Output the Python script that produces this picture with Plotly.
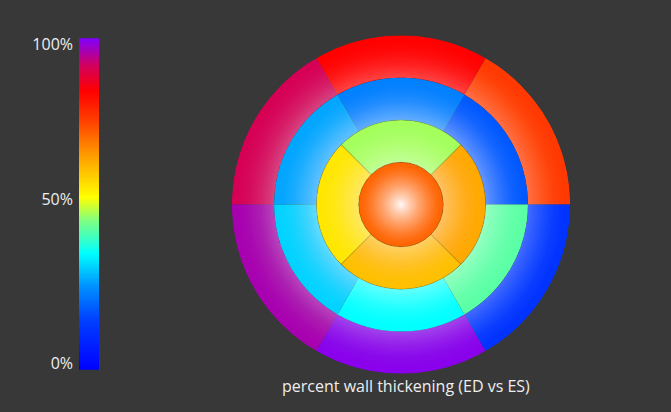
import numpy as np
import plotly.graph_objects as go

# ---------------- data ----------------
basal_angles = [30, 90, 150, 210, 270, 330]
basal_values = [76, 84, 91, 96, 99, 12]
mid_angles = [30, 90, 150, 210, 270, 330]
mid_values = [18, 23, 27, 31, 35, 42]
apical_angles = [0, 90, 180, 270]
apical_values = [63, 47, 55, 60]
apex_value = [71]
cbar_tick_vals = [1.8, 51.3, 98.0]
cbar_tick_text = ["0%", "50%", "100%"]
title_text = "percent wall thickening (ED vs ES)"

# ---------------- style ----------------
W, H = 671, 412
BG = "#383838"
FONT = "Open Sans"
colorscale = [
    [0.00, "#0000ff"], [0.15, "#0040ff"], [0.25, "#0090ff"], [0.35, "#00ffff"],
    [0.45, "#80ff80"], [0.52, "#ffff00"], [0.65, "#ff9900"], [0.75, "#ff4000"],
    [0.84, "#ff0000"], [0.92, "#d00060"], [1.00, "#8000ff"],
]

def px_x(p):
    return p / W

def px_y(p):
    return 1 - p / H

fig = go.Figure()

def ring(angles, values, base, width, line_w):
    fig.add_trace(go.Barpolar(
        theta=angles, r=[1] * len(values), base=[base] * len(values),
        width=[width] * len(values),
        marker=dict(color=values, colorscale=colorscale, cmin=0, cmax=100,
                    line=dict(color="rgba(110,80,0,0.35)", width=line_w)),
        hoverinfo="skip", showlegend=False))

ring(basal_angles, basal_values, 3, 60, 0)
ring(mid_angles, mid_values, 2, 60, 0)
ring(apical_angles, apical_values, 1, 90, 0.7)
ring([0], apex_value, 0, 360, 0.7)

# radial shading: nested white bands, lightest at each ring's inner edge
def shade(base, peak, power, n=36):
    k = np.arange(1, n + 1)
    x_mid = 1 - (k - 0.5) / n
    target = peak * (1 - x_mid) ** power
    prev = np.concatenate([[0.0], target[:-1]])
    a = 1 - (1 - target) / (1 - prev)
    outer = 1 - (k - 1) / n
    fig.add_trace(go.Barpolar(
        theta=[0] * n, r=list(outer), base=[base] * n, width=[360] * n,
        marker=dict(color=[f"rgba(255,255,255,{v:.4f})" for v in a], line=dict(width=0)),
        hoverinfo="skip", showlegend=False))

shade(0, 0.97, 1.3)
shade(1, 0.45, 1.4)
shade(2, 0.45, 1.4)
shade(3, 0.34, 1.4)

# colour bar drawn as a heatmap on a cartesian axis
scale_vals = np.arange(0, 100.5, 0.5)
fig.add_trace(go.Heatmap(
    z=[[v] for v in scale_vals], y=scale_vals, x=[0],
    colorscale=colorscale, zmin=0, zmax=100, showscale=False, hoverinfo="skip"))

fig.update_layout(
    width=W, height=H, margin=dict(l=0, r=0, t=0, b=0),
    paper_bgcolor=BG, plot_bgcolor=BG,
    font=dict(family=FONT, color="#eeeeee", size=16),
    polar=dict(
        domain=dict(x=[px_x(228), px_x(574)], y=[px_y(377), px_y(31)]),
        bgcolor="rgba(0,0,0,0)", barmode="overlay",
        radialaxis=dict(range=[0, 4], visible=False),
        angularaxis=dict(visible=False, direction="counterclockwise", rotation=0),
    ),
    xaxis=dict(domain=[px_x(79), px_x(99)], range=[-0.5, 0.5], visible=False, fixedrange=True),
    yaxis=dict(domain=[px_y(373), px_y(34)], range=[0, 100], tickvals=cbar_tick_vals,
               ticktext=cbar_tick_text, showgrid=False, zeroline=False, ticks="",
               showline=False, ticklabelstandoff=5,
               tickfont=dict(color="#eeeeee", size=16, family=FONT)),
    annotations=[dict(text=title_text, x=px_x(406), y=px_y(389), xref="paper", yref="paper",
                      showarrow=False, xanchor="center", yanchor="middle",
                      font=dict(color="#eeeeee", size=16, family=FONT))],
)

fig.write_html("out.html")
